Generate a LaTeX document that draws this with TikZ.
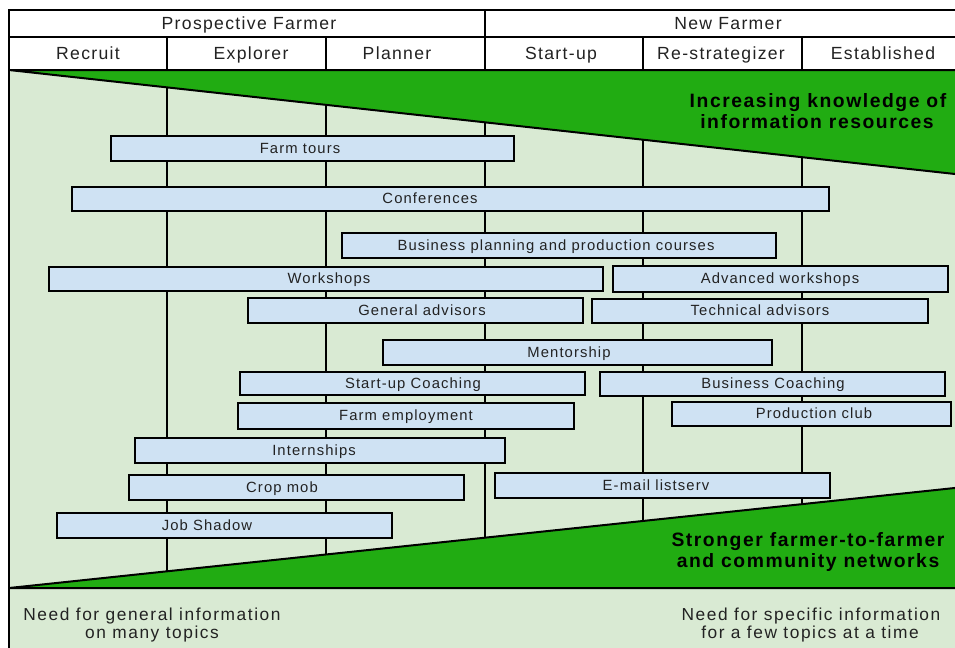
\documentclass[tikz,border=0pt]{standalone}
\usepackage{fontspec}
\setmainfont{Liberation Sans}
\newfontfamily\hdfont[LetterSpace=7.5]{Liberation Sans}
\newfontfamily\bxfont[LetterSpace=7.5]{Liberation Sans}
\newfontfamily\bgfont[LetterSpace=8]{Liberation Sans}
\newfontfamily\btfont[LetterSpace=9]{Liberation Sans}
\definecolor{bgg}{HTML}{D9EAD3}
\definecolor{dg}{HTML}{21AC12}
\definecolor{bb}{HTML}{CFE2F3}
\definecolor{tx}{HTML}{222222}
\tikzset{
  frame/.style={line width=1.5pt, draw=black},
  boxst/.style={line width=1.5pt, draw=black, fill=bb},
  hdtxt/.style={font=\hdfont\fontsize{13.2pt}{15pt}\selectfont, anchor=base, inner sep=0pt, text=tx},
  boxtxt/.style={font=\bxfont\fontsize{11.1pt}{13pt}\selectfont, anchor=base, inner sep=0pt, text=tx},
  bigtxt/.style={font=\bgfont\bfseries\fontsize{14.5pt}{17pt}\selectfont, anchor=base, inner sep=0pt, text=black},
  bottxt/.style={font=\btfont\fontsize{13pt}{15pt}\selectfont, anchor=base, inner sep=0pt, text=tx},
}
\newcommand\bx[7]{%
  \draw[boxst] (#2,#3) rectangle (#4,#5);
  \node[boxtxt] (#1) at (#6,{(#3+#5)/2+4.8}) {#7};}
\begin{document}
\begin{tikzpicture}[x=0.75pt,y=-0.75pt]
\useasboundingbox (0,0) rectangle (955,647);
\clip (0,0) rectangle (955,647);
\fill[white] (0,0) rectangle (955,647);
% body background
\fill[bgg] (9,70) rectangle (965,652);
% header
\draw[frame, fill=white] (9,10) rectangle (965,70);
\draw[frame] (9,37) -- (965,37);
\draw[frame] (485,10) -- (485,37);
\foreach \xx in {167,326,485,643,802} {\draw[frame] (\xx,37) -- (\xx,70);}
% body vertical lines
\foreach \xx in {167,326,485,643,802} {\draw[frame] (\xx,70) -- (\xx,588);}
% green wedges
\filldraw[fill=dg, draw=black, line width=1.5pt] (9,70) -- (965,175.1) -- (965,70) -- cycle;
\filldraw[fill=dg, draw=black, line width=1.5pt] (9,588) -- (965,486.9) -- (965,588) -- cycle;
\draw[frame] (9,588) -- (965,588);
\draw[frame] (9,10) -- (9,652);
% header texts
\node[hdtxt] (pf) at (249,29.3) {Prospective Farmer};
\node[hdtxt] (nf) at (728,29.3) {New Farmer};
\node[hdtxt] (h1) at (88,59.3) {Recruit};
\node[hdtxt] (h2) at (251,59.3) {Explorer};
\node[hdtxt] (h3) at (397,59.3) {Planner};
\node[hdtxt] (h4) at (561,59.3) {Start-up};
\node[hdtxt] (h5) at (721,59.3) {Re-strategizer};
\node[hdtxt] (h6) at (883,59.3) {Established};
% wedge texts
\node[bigtxt] (k1) at (818,107.3) {Increasing knowledge of};
\node[bigtxt] (k2) at (817,128.3) {information resources};
\node[bigtxt] (s1) at (808,546.7) {Stronger farmer-to-farmer};
\node[bigtxt] (s2) at (808,567.8) {and community networks};
% bottom texts
\node[bottxt] (g1) at (152,620.7) {Need for general information};
\node[bottxt] (g2) at (152,638.3) {on many topics};
\node[bottxt] (p1) at (811,620.7) {Need for specific information};
\node[bottxt] (p2) at (810,638.3) {for a few topics at a time};
% boxes
\bx{b1}{111}{136}{514}{161}{300}{Farm tours}
\bx{b2}{72}{187}{829}{211}{430}{Conferences}
\bx{b3}{342}{233}{776}{258}{556}{Business planning and production courses}
\bx{b4}{49}{267}{603}{291}{329}{Workshops}
\bx{b5}{613}{266}{948}{292}{780}{Advanced workshops}
\bx{b6}{248}{298}{583}{323}{422}{General advisors}
\bx{b7}{592}{299}{928}{323}{760}{Technical advisors}
\bx{b8}{383}{340}{772}{365}{569}{Mentorship}
\bx{b9}{240}{372}{585}{395}{413}{Start-up Coaching}
\bx{b10}{600}{372}{945}{396}{773}{Business Coaching}
\bx{b11}{238}{403}{574}{429}{406}{Farm employment}
\bx{b12}{672}{402}{951}{426}{814}{Production club}
\bx{b13}{135}{438}{505}{463}{314}{Internships}
\bx{b14}{129}{475}{464}{500}{282}{Crop mob}
\bx{b15}{495}{473}{830}{498}{656}{E-mail listserv}
\bx{b16}{57}{513}{392}{538}{207}{Job Shadow}
\end{tikzpicture}
\end{document}
